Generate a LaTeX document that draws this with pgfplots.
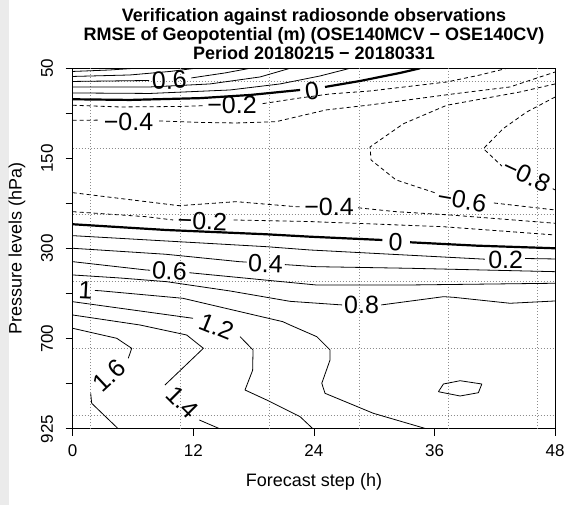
\documentclass[border=0pt]{standalone}
\usepackage{fontspec}
\setmainfont{Liberation Sans}
\usepackage{pgfplots}
\pgfplotsset{compat=1.18}
\pgfplotsset{
  pos/.style={black, line width=0.8pt, no marks, line join=round},
  zer/.style={black, line width=2.2pt, no marks, line join=round},
  neg/.style={black, line width=0.8pt, no marks, dash pattern=on 4pt off 3pt, line join=round},
}
\newcommand{\lab}{\fontsize{25}{25}\selectfont}
\begin{document}
\begin{tikzpicture}[x=1pt,y=1pt]
\fill[black!8] (0,0) rectangle (9,505);
\path[use as bounding box] (0,0) rectangle (584,505);
\begin{axis}[
  at={(72.7pt,76.1pt)}, anchor=south west, scale only axis,
  width=482.5pt, height=360.6pt,
  xmin=0, xmax=48, ymin=0, ymax=8,
  xtick={0,12,24,36,48},
  ytick={0,1,2,3,4,5,6,7,8},
  yticklabels={925,,700,,300,,150,,50},
  tick align=outside, major tick length=7pt,
  xtick pos=bottom, ytick pos=left,
  tick style={black, line width=0.8pt},
  axis line style={black, line width=0.8pt},
  /pgf/number format/assume math mode=true,
  ticklabel style={font=\fontsize{17}{17}\selectfont},
  xticklabel shift=5pt,
  yticklabel style={rotate=90, anchor=south},
  yticklabel shift=9pt,
  extra x ticks={1.79,10.68,19.56,28.49,37.4,46.2},
  extra x tick labels={,,,,,},
  extra y ticks={0.302,1.785,3.268,4.751,6.234,7.717},
  extra y tick labels={,,,,,},
  extra tick style={grid=major, major tick length=0pt},
  major grid style={black!45, line width=0.6pt, dash pattern=on 1pt off 2pt},
]
% ---- positive contours (top) ----
\addplot[pos] coordinates {(0,7.93) (3.71,7.963) (6.2,8.0)};
\addplot[pos] coordinates {(0,7.819) (5.70,7.852) (9.68,7.930) (12.17,8.0)};
\addplot[pos] coordinates {(0,7.708) (7.6,7.730)};
\addplot[pos] coordinates {(11.8,7.786) (15.15,7.897) (17.64,8.0)};
\addplot[pos] coordinates {(0,7.586) (7.69,7.586) (13.66,7.653) (18.64,7.808) (21.62,8.0)};
\addplot[pos] coordinates {(0,7.453) (7.69,7.442) (15.65,7.519) (20.63,7.653) (24.61,7.830) (27.59,8.0)};
% ---- zero (top) ----
\addplot[zer] coordinates {(0,7.313) (5.70,7.298) (12.67,7.338) (17.64,7.408) (22.62,7.519)};
\addplot[zer] coordinates {(25.1,7.586) (28.59,7.719) (32.57,7.897) (34.55,8.0)};
% ---- negative contours ----
\addplot[neg] coordinates {(0,7.180) (4.71,7.142) (10.68,7.153) (13.0,7.17)};
\addplot[neg] coordinates {(18.9,7.216) (22.62,7.342) (25.6,7.431) (29.58,7.497) (37.24,7.697) (40.53,7.852) (43.21,8.0)};
\addplot[neg] coordinates {(0,6.847) (2.6,6.85)};
\addplot[neg] coordinates {(8.6,6.832) (12.67,6.799) (16.25,6.787) (20.23,6.816) (25.2,7.076) (29.58,7.187) (37.84,7.431) (43.51,7.586) (48,7.919)};
\addplot[neg] coordinates {(48,7.653) (44.51,7.475) (37.21,7.18) (32.9,6.77) (29.58,6.255) (29.68,5.966) (32.17,5.523) (36.1,5.234)};
\addplot[neg] coordinates {(41.9,5.012) (48,4.857)};
\addplot[neg] coordinates {(48,7.364) (45.17,7.031) (42.82,6.661) (40.86,6.217) (42.7,5.83)};
\addplot[neg] coordinates {(47.75,5.33) (48,5.30)};
\addplot[neg] coordinates {(0,5.241) (10.58,4.952) (16.25,5.041) (22.22,4.930) (22.8,4.93)};
\addplot[neg] coordinates {(28.4,4.905) (32.17,4.819) (37.54,4.746) (48,4.562)};
\addplot[neg] coordinates {(0,4.819) (7.29,4.708) (10.0,4.635)};
\addplot[neg] coordinates {(16.0,4.635) (23.61,4.60) (36.84,4.486) (48,4.302)};
% ---- zero (lower) ----
\addplot[zer] coordinates {(0,4.540) (9.28,4.413) (19.23,4.318) (23.61,4.264) (30.8,4.191)};
\addplot[zer] coordinates {(33.56,4.140) (40.20,4.065) (48,4.007)};
% ---- positive contours (lower) ----
\addplot[pos] coordinates {(0,4.287) (9.28,4.169) (19.23,4.043) (23.61,3.969) (41.0,3.765)};
\addplot[pos] coordinates {(45.0,3.78) (48,3.770)};
\addplot[pos] coordinates {(0,4.007) (9.28,3.874) (16.58,3.710) (17.3,3.70)};
\addplot[pos] coordinates {(21.1,3.645) (24.21,3.599) (33.56,3.563) (48,3.488)};
\addplot[pos] coordinates {(0,3.710) (7.29,3.526) (7.7,3.52)};
\addplot[pos] coordinates {(11.6,3.465) (24.21,3.193) (33.56,3.193) (48,3.231)};
\addplot[pos] coordinates {(0,3.415) (4.71,3.348) (9.35,3.266) (15.65,3.06) (21.62,2.83) (26.8,2.75)};
\addplot[pos] coordinates {(30.7,2.75) (36.88,2.933) (37.87,2.92) (43.51,2.787) (48,2.838)};
\addplot[pos] coordinates {(2.2,3.07) (2.65,3.066) (10.95,2.898) (20.90,2.379) (21.62,2.305) (24.28,2.046) (25.60,1.751) (25.60,1.529) (24.78,1.012) (25.10,0.790) (29.91,0.346) (35.22,0)};
\addplot[pos] coordinates {(0,2.822) (11.97,2.454)};
\addplot[pos] coordinates {(16.65,2.046) (17.94,1.751) (17.9,1.3) (17.14,0.863) (19.30,0.641) (22.62,0.271) (23.91,0)};
\addplot[pos] coordinates {(36.38,0.825) (36.88,0.996) (38.54,1.069) (40.70,0.996) (40.36,0.803) (38.54,0.730) (36.38,0.825)};
\addplot[pos] coordinates {(0,2.527) (6.70,2.305) (11.34,2.083) (13.0,1.788) (9.18,0.974)};
\addplot[pos] coordinates {(12.6,0.197) (14.66,0)};
\addplot[pos] coordinates {(0,2.232) (4.38,2.010) (5.87,1.788) (5.53,1.566)};
\addplot[pos] coordinates {(1.79,0.790) (1.89,0.568) (4.54,0)};
% ---- contour labels ----
\node[font=\lab, inner sep=0pt, rotate=3] at (axis cs:9.60,7.73) {0.6};
\node[font=\lab, inner sep=0pt] at (axis cs:15.85,7.19) {−0.2};
\node[font=\lab, inner sep=0pt] at (axis cs:5.55,6.81) {−0.4};
\node[font=\lab, inner sep=0pt, rotate=8] at (axis cs:23.81,7.50) {0};
\node[font=\lab, inner sep=0pt, rotate=-2] at (axis cs:12.9,4.61) {−0.2};
\node[font=\lab, inner sep=0pt] at (axis cs:25.5,4.92) {−0.4};
\node[font=\lab, inner sep=0pt, rotate=-2] at (axis cs:32.12,4.15) {0};
\node[font=\lab, inner sep=0pt] at (axis cs:43.07,3.75) {0.2};
\node[font=\lab, inner sep=0pt, rotate=-2] at (axis cs:19.18,3.66) {0.4};
\node[font=\lab, inner sep=0pt, rotate=-4] at (axis cs:9.63,3.50) {0.6};
\node[font=\lab, inner sep=0pt, rotate=-3] at (axis cs:1.27,3.07) {1};
\node[font=\lab, inner sep=0pt] at (axis cs:28.74,2.75) {0.8};
\node[font=\lab, inner sep=0pt, rotate=-22] at (axis cs:14.31,2.27) {1.2};
\node[font=\lab, inner sep=0pt, rotate=43] at (axis cs:3.66,1.18) {1.6};
\node[font=\lab, inner sep=0pt, rotate=-45] at (axis cs:10.93,0.59) {1.4};
\node[font=\lab, inner sep=0pt, rotate=-10] at (axis cs:38.74,5.08) {−0.6};
\node[font=\lab, inner sep=0pt, rotate=-25] at (axis cs:45.15,5.63) {−0.8};
\end{axis}
% titles and axis labels
\node[anchor=base, font=\bfseries\fontsize{18}{18}\selectfont] at (314,483) {Verification against radiosonde observations};
\node[anchor=base, font=\bfseries\fontsize{18}{18}\selectfont] at (314,464) {RMSE of Geopotential (m) (OSE140MCV − OSE140CV)};
\node[anchor=base, font=\bfseries\fontsize{18}{18}\selectfont] at (314,445) {Period 20180215 − 20180331};
\node[font=\fontsize{18}{18}\selectfont] at (314,23.3) {Forecast step (h)};
\node[font=\fontsize{18}{18}\selectfont, rotate=90] at (17,256.4) {Pressure levels (hPa)};
\end{tikzpicture}
\end{document}
